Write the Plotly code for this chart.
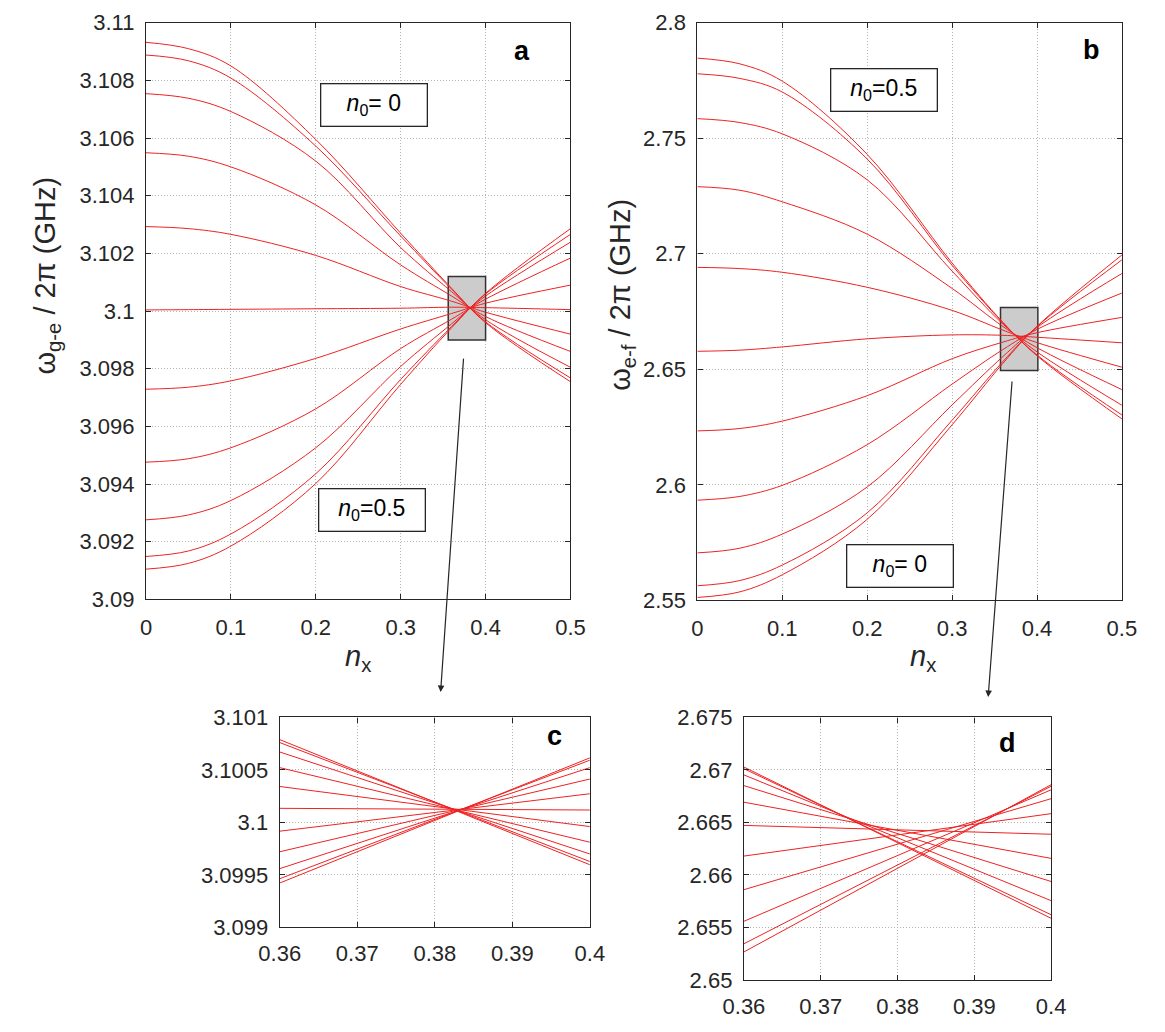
import plotly.graph_objects as go

# ---------------------------------------------------------------- data
# control parameter n_x (sample points along each curve)
nx_main = [0.0, 0.05, 0.1, 0.2, 0.3, 0.36, 0.4, 0.5]

# omega_{g-e}/2pi in GHz, one row per n0 value (n0 = 0 first, n0 = 0.5 last)
freq_ge = [
    [3.10932, 3.10910, 3.10850, 3.10595, 3.10270, 3.100789, 3.099596, 3.09755],
    [3.10888, 3.10868, 3.10808, 3.10572, 3.10260, 3.100761, 3.099627, 3.09768],
    [3.10754, 3.10738, 3.10692, 3.10520, 3.10220, 3.100671, 3.099699, 3.09805],
    [3.10549, 3.10537, 3.10500, 3.10368, 3.10160, 3.100522, 3.099811, 3.09860],
    [3.10293, 3.10286, 3.10266, 3.10193, 3.10085, 3.100342, 3.099960, 3.09920],
    [3.10004, 3.10005, 3.10006, 3.10008, 3.10010, 3.100134, 3.100118, 3.10005],
    [3.09729, 3.09736, 3.09758, 3.09836, 3.09938, 3.099916, 3.100273, 3.10090],
    [3.09476, 3.09488, 3.09526, 3.09661, 3.09870, 3.099720, 3.100413, 3.10184],
    [3.09276, 3.09293, 3.09343, 3.09526, 3.09808, 3.099559, 3.100522, 3.10239],
    [3.09149, 3.09168, 3.09227, 3.09436, 3.09763, 3.099463, 3.100593, 3.10266],
    [3.09105, 3.09125, 3.09185, 3.09402, 3.09746, 3.099422, 3.100615, 3.10286],
]

# omega_{e-f}/2pi in GHz, one row per n0 value (n0 = 0.5 first, n0 = 0 last)
freq_ef = [
    [2.78467, 2.7822, 2.7747, 2.7430, 2.6960, 2.67028, 2.65587, 2.62855],
    [2.77791, 2.7759, 2.7700, 2.7410, 2.6950, 2.67012, 2.65621, 2.63024],
    [2.75849, 2.7568, 2.7519, 2.7320, 2.6925, 2.66953, 2.65755, 2.63446],
    [2.72905, 2.7275, 2.7225, 2.7085, 2.6850, 2.66851, 2.65938, 2.64122],
    [2.69413, 2.6936, 2.6920, 2.6855, 2.6755, 2.66693, 2.66158, 2.65093],
    [2.65781, 2.6583, 2.6597, 2.6632, 2.6649, 2.66472, 2.66388, 2.66149],
    [2.62335, 2.6244, 2.6276, 2.6386, 2.6546, 2.66180, 2.66584, 2.67247],
    [2.59337, 2.5950, 2.5998, 2.6174, 2.6436, 2.65860, 2.66727, 2.68302],
    [2.57057, 2.5726, 2.5787, 2.5991, 2.6346, 2.65559, 2.66811, 2.69147],
    [2.55633, 2.5586, 2.5653, 2.5879, 2.6280, 2.65345, 2.66845, 2.69738],
    [2.55127, 2.5537, 2.5611, 2.5851, 2.6260, 2.65267, 2.66860, 2.69949],
]

# close-up window around the crossing point
nx_zoom = [0.36, 0.4]
zoom_cols = [nx_main.index(v) for v in nx_zoom]

# tick labels
ticks_nx = [0, 0.1, 0.2, 0.3, 0.4, 0.5]
ticktext_nx = ["0", "0.1", "0.2", "0.3", "0.4", "0.5"]
ticks_ge = [3.09, 3.092, 3.094, 3.096, 3.098, 3.1, 3.102, 3.104, 3.106, 3.108, 3.11]
ticktext_ge = ["3.09", "3.092", "3.094", "3.096", "3.098", "3.1",
               "3.102", "3.104", "3.106", "3.108", "3.11"]
ticks_ef = [2.55, 2.6, 2.65, 2.7, 2.75, 2.8]
ticktext_ef = ["2.55", "2.6", "2.65", "2.7", "2.75", "2.8"]
ticks_nxz = [0.36, 0.37, 0.38, 0.39, 0.4]
ticktext_nxz = ["0.36", "0.37", "0.38", "0.39", "0.4"]
ticks_gez = [3.099, 3.0995, 3.1, 3.1005, 3.101]
ticktext_gez = ["3.099", "3.0995", "3.1", "3.1005", "3.101"]
ticks_efz = [2.65, 2.655, 2.66, 2.665, 2.67, 2.675]
ticktext_efz = ["2.65", "2.655", "2.66", "2.665", "2.67", "2.675"]

# ---------------------------------------------------------------- figure
W, H = 1165, 1032
RED = "rgb(238,34,34)"
INK = "#262626"
FONT = "Liberation Sans, Arial, Helvetica, sans-serif"

fig = go.Figure()


def add_curves(xs, rows, xa, ya, cols=None, shape="spline"):
    for row in rows:
        ys = row if cols is None else [row[c] for c in cols]
        fig.add_trace(go.Scatter(
            x=xs, y=ys, mode="lines", xaxis=xa, yaxis=ya,
            line=dict(color=RED, width=1, shape=shape),
            hoverinfo="skip", showlegend=False))


add_curves(nx_main, freq_ge, "x", "y")
add_curves(nx_main, freq_ef, "x2", "y2")
add_curves(nx_zoom, freq_ge, "x3", "y3", cols=zoom_cols, shape="linear")
add_curves(nx_zoom, freq_ef, "x4", "y4", cols=zoom_cols, shape="linear")


def px_x(p):
    return p / W


def px_y(p):
    return 1 - p / H


def axis(domain, rng, tv, tt, standoff):
    return dict(
        domain=domain, range=rng, tickvals=tv, ticktext=tt,
        showline=True, linecolor=INK, linewidth=1.3, mirror="ticks",
        ticks="inside", ticklen=5, tickcolor=INK, tickwidth=1,
        showgrid=True, gridcolor="#b4b4b4", griddash="1px,2px", gridwidth=1,
        zeroline=False, ticklabelstandoff=standoff,
        tickfont=dict(family=FONT, size=22, color=INK),
        fixedrange=True)


fig.update_layout(
    width=W, height=H,
    margin=dict(l=0, r=0, t=0, b=0),
    paper_bgcolor="white", plot_bgcolor="white",
    showlegend=False,
    xaxis=axis([px_x(129), px_x(567)], [0, 0.5], ticks_nx, ticktext_nx, 8),
    yaxis=axis([px_y(602), px_y(11)], [3.09, 3.11], ticks_ge, ticktext_ge, 6),
    xaxis2=axis([px_x(698), px_x(1136)], [0, 0.5], ticks_nx, ticktext_nx, 8),
    yaxis2=axis([px_y(603), px_y(11)], [2.55, 2.8], ticks_ef, ticktext_ef, 6),
    xaxis3=axis([px_x(267), px_x(587)], [0.36, 0.4], ticks_nxz, ticktext_nxz, 6),
    yaxis3=axis([px_y(938), px_y(723)], [3.099, 3.101], ticks_gez, ticktext_gez, 6),
    xaxis4=axis([px_x(746), px_x(1063)], [0.36, 0.4], ticks_nxz, ticktext_nxz, 6),
    yaxis4=axis([px_y(992), px_y(723)], [2.65, 2.675], ticks_efz, ticktext_efz, 6),
)
for k, a in (("xaxis2", "y2"), ("xaxis3", "y3"), ("xaxis4", "y4")):
    fig.layout[k].anchor = a
for k, a in (("yaxis2", "x2"), ("yaxis3", "x3"), ("yaxis4", "x4")):
    fig.layout[k].anchor = a

# grey windows marking the close-up regions
fig.add_shape(type="rect", xref="x", yref="y", x0=0.356, x1=0.4, y0=3.0990, y1=3.1012,
              fillcolor="#cccccc", line=dict(color="#333333", width=1.5), layer="between")
fig.add_shape(type="rect", xref="x2", yref="y2", x0=0.357, x1=0.401, y0=2.6495, y1=2.6768,
              fillcolor="#cccccc", line=dict(color="#333333", width=1.5), layer="between")

annos = []


# n0 labels in framed boxes
def n0_box(x, y, xr, yr, txt):
    annos.append(dict(
        x=x, y=y, xref=xr, yref=yr, showarrow=False,
        text="<i>n</i><sub>0</sub>" + txt,
        font=dict(family=FONT, size=23, color="black"),
        bordercolor=INK, borderwidth=1.3, borderpad=1, bgcolor="white",
        width=103, height=39, align="center", valign="middle",
        xanchor="center", yanchor="middle"))


n0_box(0.2685, 3.10716, "x", "y", "= 0")
n0_box(0.2661, 3.09311, "x", "y", "=0.5")
n0_box(0.2192, 2.7710, "x2", "y2", "=0.5")
n0_box(0.2384, 2.5650, "x2", "y2", "= 0")

# panel letters
for letter, px, py in (("a", 517, 40), ("b", 1105, 39), ("c", 550, 742), ("d", 1018, 749)):
    annos.append(dict(x=px_x(px), y=px_y(py), xref="paper", yref="paper", showarrow=False,
                      text="<b>%s</b>" % letter, xanchor="center", yanchor="middle",
                      font=dict(family=FONT, size=27, color="black")))

# axis titles
for txt, px, py in (("ω<sub>g-e</sub> / 2π (GHz)", 27, 270),
                    ("ω<sub>e-f</sub> / 2π (GHz)", 620, 290)):
    annos.append(dict(x=px_x(px), y=px_y(py), xref="paper", yref="paper", showarrow=False,
                      text=txt, textangle=-90, xanchor="center", yanchor="middle",
                      font=dict(family=FONT, size=29, color=INK)))
for px, py in ((348, 662), (931, 662)):
    annos.append(dict(x=px_x(px), y=px_y(py), xref="paper", yref="paper", showarrow=False,
                      text="<i>n</i><sub>x</sub>", xanchor="center", yanchor="middle",
                      font=dict(family=FONT, size=29, color=INK)))

# arrows from the grey windows to the close-up panels
for tip, tail in (((433, 697), (456, 362)), ((998, 702), (1022, 385))):
    annos.append(dict(x=px_x(tip[0]), y=px_y(tip[1]), xref="paper", yref="paper",
                      ax=tail[0] - tip[0], ay=tail[1] - tip[1], text="",
                      showarrow=True, arrowhead=2, arrowsize=1.1, arrowwidth=1.2,
                      arrowcolor=INK, standoff=0))

fig.update_layout(annotations=annos)

# the figure fills the page edge to edge
fig.write_html("out.html", post_script="document.body.style.margin='0';")
